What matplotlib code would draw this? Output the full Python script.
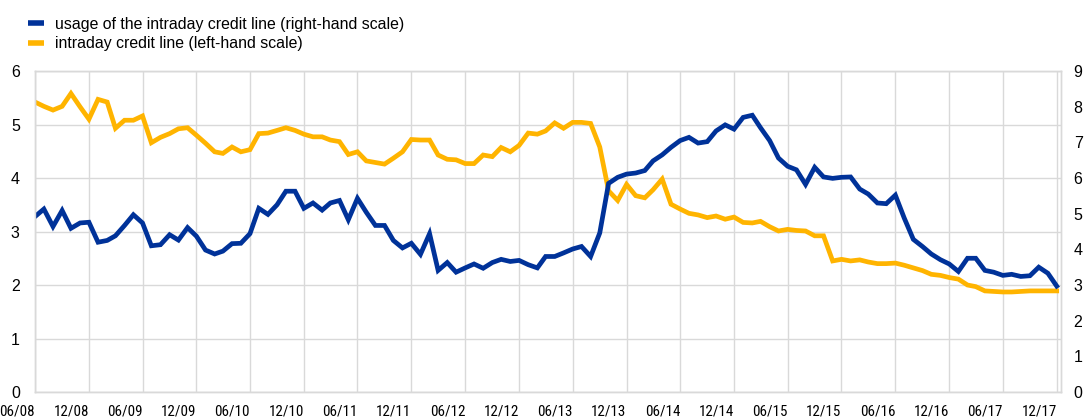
import matplotlib.pyplot as plt
import matplotlib.transforms as mtransforms
from matplotlib import font_manager
from matplotlib.lines import Line2D
import pandas as pd

plt.rcParams['font.family'] = ['Liberation Sans', 'DejaVu Sans']

# meses de 06/2008 a 12/2017
meses = pd.date_range('2008-06-01', '2017-12-01', freq='MS')

# linha de credito intradia (escala esquerda)
credito = [5.42, 5.34, 5.27, 5.34, 5.58, 5.33, 5.10, 5.47, 5.42, 4.93,
           5.08, 5.08, 5.16, 4.66, 4.76, 4.83, 4.92, 4.94, 4.80, 4.65,
           4.49, 4.46, 4.58, 4.49, 4.53, 4.83, 4.84, 4.89, 4.94, 4.89,
           4.82, 4.77, 4.77, 4.71, 4.68, 4.44, 4.49, 4.32, 4.29, 4.26,
           4.37, 4.49, 4.72, 4.71, 4.71, 4.43, 4.35, 4.34, 4.27, 4.27,
           4.43, 4.40, 4.57, 4.49, 4.61, 4.84, 4.82, 4.88, 5.03, 4.93,
           5.04, 5.04, 5.02, 4.58, 3.76, 3.58, 3.88, 3.67, 3.63, 3.78,
           3.98, 3.51, 3.42, 3.34, 3.31, 3.26, 3.29, 3.23, 3.27, 3.17,
           3.16, 3.19, 3.09, 3.01, 3.04, 3.02, 3.01, 2.92, 2.92, 2.45,
           2.48, 2.45, 2.47, 2.43, 2.40, 2.40, 2.41, 2.37, 2.32, 2.27,
           2.20, 2.18, 2.14, 2.11, 2.00, 1.97, 1.89, 1.88, 1.87, 1.87,
           1.88, 1.89, 1.89, 1.89, 1.89]

# utilizacao da linha de credito (escala direita)
uso = [4.92, 5.13, 4.64, 5.09, 4.59, 4.74, 4.76, 4.20, 4.25, 4.38,
       4.67, 4.97, 4.74, 4.10, 4.13, 4.41, 4.26, 4.61, 4.37, 3.98,
       3.87, 3.95, 4.16, 4.17, 4.44, 5.15, 4.98, 5.25, 5.63, 5.63,
       5.15, 5.30, 5.10, 5.30, 5.37, 4.83, 5.43, 5.04, 4.67, 4.67,
       4.25, 4.04, 4.17, 3.86, 4.44, 3.41, 3.63, 3.36, 3.48, 3.59,
       3.47, 3.63, 3.72, 3.66, 3.69, 3.57, 3.48, 3.80, 3.80, 3.90,
       4.01, 4.08, 3.80, 4.46, 5.85, 6.02, 6.11, 6.14, 6.21, 6.48,
       6.65, 6.86, 7.05, 7.14, 6.98, 7.02, 7.32, 7.49, 7.37, 7.70,
       7.76, 7.41, 7.05, 6.56, 6.33, 6.23, 5.82, 6.30, 6.03, 5.99,
       6.02, 6.03, 5.69, 5.55, 5.30, 5.28, 5.52, 4.88, 4.28, 4.08,
       3.87, 3.71, 3.59, 3.38, 3.75, 3.75, 3.41, 3.36, 3.27, 3.30,
       3.24, 3.26, 3.50, 3.33, 2.97]

azul = '#003299'
amarelo = '#ffb400'
cinza = '#d9d9d9'

# fonte estreita para as datas, se existir
nomes = {f.name for f in font_manager.fontManager.ttflist}
fonte_x, tam_x = 'Liberation Sans', 10
for nome in ['Liberation Sans Narrow', 'Roboto Condensed', 'Open Sans Condensed']:
    if nome in nomes:
        fonte_x, tam_x = nome, 10.8
        break

fig = plt.figure(figsize=(10.85, 4.19), dpi=100)
ax = fig.add_axes([0.0323, 0.0644, 0.9457, 0.7661])
ax2 = ax.twinx()

ax.plot(meses, credito, color=amarelo, linewidth=3.4, solid_joinstyle='miter')
ax2.plot(meses, uso, color=azul, linewidth=3.4, solid_joinstyle='miter')

ax.set_ylim(0, 6)
ax2.set_ylim(0, 9)
ax.set_yticks(range(0, 7))
ax2.set_yticks(range(0, 10))
ax.set_xlim(meses[0], meses[-1] + pd.Timedelta(days=15))

ticks = meses[::6]
ax.set_xticks(ticks)
ax.set_xticklabels([d.strftime('%m/%y') for d in ticks], ha='right',
                   fontsize=tam_x, family=fonte_x)
desloc = mtransforms.ScaledTranslation(1 / 100, 0, fig.dpi_scale_trans)
for rotulo in ax.get_xticklabels():
    rotulo.set_transform(rotulo.get_transform() + desloc)
ax.xaxis.set_tick_params(length=0, pad=9)
ax.yaxis.set_tick_params(length=0, pad=11, labelsize=11.5)
ax2.yaxis.set_tick_params(length=0, pad=9, labelsize=11.5)

ax.grid(True, color=cinza, linewidth=1)
ax.set_axisbelow(True)
for a in (ax, ax2):
    for lado in a.spines.values():
        lado.set_color(cinza)
        lado.set_linewidth(1)

# legenda
itens = [Line2D([], [], color=azul, linewidth=4, solid_capstyle='butt'),
         Line2D([], [], color=amarelo, linewidth=4, solid_capstyle='butt')]
fig.legend(itens, ['usage of the intraday credit line (right-hand scale)',
                   'intraday credit line (left-hand scale)'],
           loc='upper left', bbox_to_anchor=(0.016, 0.987), frameon=False,
           fontsize=11.4, handlelength=1.0, handletextpad=0.7,
           labelspacing=0.3, borderaxespad=0.3)

fig.savefig('out.png', dpi=100)
